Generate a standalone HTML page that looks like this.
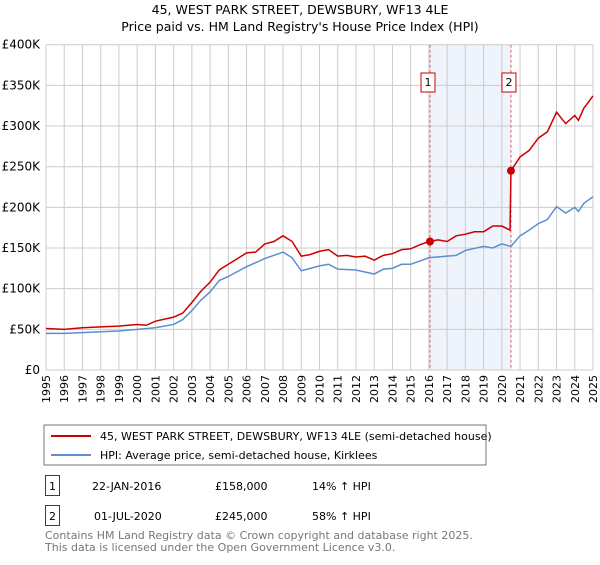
<!DOCTYPE html>
<html><head><meta charset="utf-8"><style>
body{margin:0;background:#fff;font-family:"Liberation Sans","DejaVu Sans",sans-serif;}
svg text{font-family:"DejaVu Sans","Liberation Sans",sans-serif;}
</style></head><body>
<svg id="c" width="600" height="560" xmlns="http://www.w3.org/2000/svg">
<text x="300" y="14" text-anchor="middle" font-size="12.5">45, WEST PARK STREET, DEWSBURY, WF13 4LE</text>
<text x="300" y="31" text-anchor="middle" font-size="12.5">Price paid vs. HM Land Registry's House Price Index (HPI)</text>
<g id="grid"></g><g id="series"></g><g id="axes"></g>
<rect x="44" y="425" width="442" height="40" fill="#fff" stroke="#777"/>
<line x1="51" y1="436" x2="91" y2="436" stroke="#cc0000" stroke-width="2"/>
<text x="100" y="440" font-size="11">45, WEST PARK STREET, DEWSBURY, WF13 4LE (semi-detached house)</text>
<line x1="51" y1="455" x2="91" y2="455" stroke="#5b8fd0" stroke-width="2"/>
<text x="100" y="459" font-size="11">HPI: Average price, semi-detached house, Kirklees</text>
<g>
<rect x="45.5" y="475.5" width="14" height="20" fill="#fff" stroke="#cc0000"/>
<text x="52.5" y="490" font-size="11" text-anchor="middle">1</text>
<text x="92" y="490" font-size="11">22-JAN-2016</text>
<text x="215" y="490" font-size="11">£158,000</text>
<text x="312" y="490" font-size="11">14% ↑ HPI</text></g>
<g>
<rect x="45.5" y="505.5" width="14" height="20" fill="#fff" stroke="#cc0000"/>
<text x="52.5" y="520" font-size="11" text-anchor="middle">2</text>
<text x="94" y="520" font-size="11">01-JUL-2020</text>
<text x="215" y="520" font-size="11">£245,000</text>
<text x="312" y="520" font-size="11">58% ↑ HPI</text></g>
<text x="45" y="539" font-size="11" fill="#777">Contains HM Land Registry data © Crown copyright and database right 2025.</text>
<text x="45" y="551" font-size="11" fill="#777">This data is licensed under the Open Government Licence v3.0.</text>
</svg>
<script>
const priceYears=[1995,1996,1997,1998,1999,2000,2000.5,2001,2002,2002.5,2003,2003.5,2004,2004.5,2005,2005.5,2006,2006.5,2007,2007.5,2008,2008.5,2009,2009.5,2010,2010.5,2011,2011.5,2012,2012.5,2013,2013.5,2014,2014.5,2015,2015.5,2016,2016.5,2017,2017.5,2018,2018.5,2019,2019.5,2020,2020.45,2020.5,2021,2021.5,2022,2022.5,2023,2023.5,2024,2024.2,2024.5,2025];
const priceValues=[51,50,52,53,54,56,55,60,65,70,83,97,108,123,130,137,144,145,155,158,165,158,140,142,146,148,140,141,139,140,135,141,143,148,149,154,158,160,158,165,167,170,170,177,177,172,245,262,270,285,293,317,303,313,307,322,337];
const hpiYears=[1995,1996,1997,1998,1999,2000,2001,2002,2002.5,2003,2003.5,2004,2004.5,2005,2006,2007,2008,2008.5,2009,2009.5,2010,2010.5,2011,2012,2013,2013.5,2014,2014.5,2015,2015.5,2016,2017,2017.5,2018,2019,2019.5,2020,2020.5,2021,2021.5,2022,2022.5,2023,2023.5,2024,2024.2,2024.5,2025];
const hpiValues=[45,45,46,47,48,50,52,56,62,73,86,96,110,115,127,137,145,138,122,125,128,130,124,123,118,124,125,130,130,134,138,140,141,147,152,150,155,152,165,172,180,185,201,193,200,195,205,213];
const yTicks=[0,50,100,150,200,250,300,350,400];
const yTickLabels=["£0","£50K","£100K","£150K","£200K","£250K","£300K","£350K","£400K"];
const xTicks=[1995,1996,1997,1998,1999,2000,2001,2002,2003,2004,2005,2006,2007,2008,2009,2010,2011,2012,2013,2014,2015,2016,2017,2018,2019,2020,2021,2022,2023,2024,2025];
const saleYears=[2016.06,2020.5];
const saleValues=[158,245];
const saleLabels=["1","2"];

const NS="http://www.w3.org/2000/svg";
const L=46,R=593,T=44.7,B=370;
const xs=y=>L+(y-1995)/30*(R-L);
const ys=v=>B-v/400*(B-T);
function mk(tag,attrs,parent){const e=document.createElementNS(NS,tag);for(const k in attrs)e.setAttribute(k,attrs[k]);parent.appendChild(e);return e;}
const grid=document.getElementById('grid'),ser=document.getElementById('series'),ax=document.getElementById('axes');
const shade=mk('rect',{x:xs(saleYears[0]),y:T,width:xs(saleYears[1])-xs(saleYears[0]),height:B-T,fill:'#eef3fc'},grid);


xTicks.forEach(t=>{const l=mk('line',{x1:xs(t),x2:xs(t),y1:T,y2:B,stroke:'#cccccc'},grid);


const tx=mk('text',{x:0,y:0,'font-size':11,'text-anchor':'end',transform:`translate(${xs(t)+4},${B+5}) rotate(-90)`},ax);tx.textContent=t;

});
yTicks.forEach((t,i)=>{const l=mk('line',{x1:L,x2:R,y1:ys(t),y2:ys(t),stroke:'#cccccc'},grid);


const tx=mk('text',{x:L-6,y:ys(t)+4,'font-size':12,'text-anchor':'end'},ax);tx.textContent=yTickLabels[i];

});
saleYears.forEach((s,i)=>{const l=mk('line',{x1:xs(s),x2:xs(s),y1:T,y2:B,stroke:'#e06060','stroke-dasharray':'3,2'},grid);


const bx=mk('rect',{x:xs(s)-9,y:73,width:14,height:19,fill:'#fff',stroke:'#cc0000'},ax);


const tx=mk('text',{x:xs(s)-2,y:86,'font-size':11,'text-anchor':'middle'},ax);tx.textContent=saleLabels[i];

});
const hp=mk('polyline',{points:hpiYears.map((y,i)=>xs(y)+','+ys(hpiValues[i])).join(' '),fill:'none',stroke:'#5b8fd0','stroke-width':1.5},ser);


const pp=mk('polyline',{points:priceYears.map((y,i)=>xs(y)+','+ys(priceValues[i])).join(' '),fill:'none',stroke:'#cc0000','stroke-width':1.5},ser);


saleYears.forEach((s,i)=>{const c=mk('circle',{cx:xs(s),cy:ys(saleValues[i]),r:4,fill:'#cc0000'},ser);

});
</script>
</body></html>
